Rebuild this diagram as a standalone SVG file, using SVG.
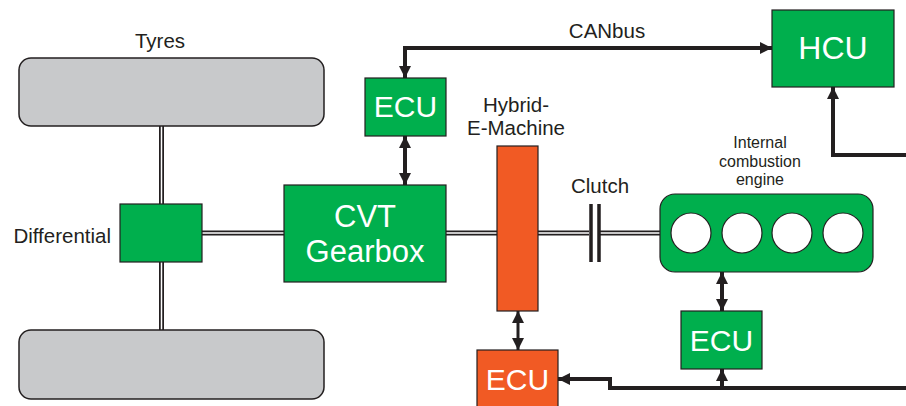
<svg xmlns="http://www.w3.org/2000/svg" width="906" height="406" viewBox="0 0 906 406">
<style>
text{font-family:"Liberation Sans",Arial,sans-serif;}
.lbl{fill:#231f20;text-anchor:middle;}
.wt{fill:#ffffff;text-anchor:middle;}
.green{fill:#00AF4D;stroke:#231f20;stroke-width:1.2;}
.orange{fill:#F15A24;stroke:#231f20;stroke-width:1.2;}
.tyre{fill:#C8C9CB;stroke:#231f20;stroke-width:1.5;}
.shaftO{stroke:#231f20;stroke-width:5;fill:none;}
.shaftI{stroke:#ffffff;stroke-width:1.5;fill:none;}
.sig{stroke:#231f20;stroke-width:4;fill:none;}
.sig2{stroke:#231f20;stroke-width:3;fill:none;}
</style>
<defs>
<marker id="ah" viewBox="0 0 10 10" refX="10" refY="5" markerWidth="12" markerHeight="12" markerUnits="userSpaceOnUse" orient="auto-start-reverse">
<path d="M0,0 L10,5 L0,10 z" fill="#231f20"/>
</marker>
</defs>
<rect width="906" height="406" fill="#ffffff"/>

<g id="shafts">
<path class="shaftO" d="M161.5,126 V204 M161.5,262 V330 M202,233 H284 M446,233 H589 M599,233 H660"/>
<path class="shaftI" d="M161.5,126 V204 M161.5,262 V330 M202,233 H284 M446,233 H589 M599,233 H660"/>
</g>

<g id="connectors">
<path class="sig" d="M405,78 V48 H772" marker-start="url(#ah)" marker-end="url(#ah)"/>
<path class="sig" d="M405,136 V185" marker-start="url(#ah)" marker-end="url(#ah)"/>
<path class="sig" d="M906,155 H833 V87" marker-end="url(#ah)"/>
<path class="sig2" d="M518,311 V350" marker-start="url(#ah)" marker-end="url(#ah)"/>
<path class="sig" d="M722,272 V311" marker-start="url(#ah)" marker-end="url(#ah)"/>
<path class="sig" d="M906,388 H610 V379 H558" marker-end="url(#ah)"/>
<path class="sig" d="M722,388 V369" marker-end="url(#ah)"/>
</g>

<g id="tyre-top">
<rect class="tyre" x="19" y="58" width="305" height="68" rx="12"/>
<text class="lbl" x="160" y="48" font-size="20.5">Tyres</text>
</g>
<g id="tyre-bottom">
<rect class="tyre" x="19" y="330" width="305" height="69" rx="12"/>
</g>

<g id="differential">
<rect class="green" x="120" y="204" width="82" height="58"/>
<text x="111" y="243" font-size="20.5" fill="#231f20" text-anchor="end">Differential</text>
</g>

<g id="cvt">
<rect class="green" x="284" y="185" width="162" height="97"/>
<text class="wt" x="365" y="227" font-size="31">CVT</text>
<text class="wt" x="365" y="262" font-size="31">Gearbox</text>
</g>

<g id="ecu-cvt">
<rect class="green" x="365" y="78" width="81" height="58"/>
<text class="wt" x="405.5" y="117" font-size="30">ECU</text>
</g>

<g id="canbus-label">
<text class="lbl" x="607" y="38" font-size="20.5">CANbus</text>
</g>

<g id="hcu">
<rect class="green" x="772" y="10" width="122" height="77"/>
<text class="wt" x="833" y="59" font-size="32">HCU</text>
</g>

<g id="e-machine">
<rect class="orange" x="497" y="146" width="41" height="165"/>
<text class="lbl" x="516" y="112" font-size="20.5">Hybrid-</text>
<text class="lbl" x="516" y="135" font-size="20.5">E-Machine</text>
</g>

<g id="clutch">
<path d="M591,204 V262 M599,204 V262" stroke="#231f20" stroke-width="3.5"/>
<text class="lbl" x="600" y="193" font-size="20.5">Clutch</text>
</g>

<g id="engine">
<rect class="green" x="660" y="194" width="213" height="78" rx="15"/>
<circle cx="691" cy="233" r="20" fill="#ffffff" stroke="#231f20" stroke-width="1.2"/>
<circle cx="742" cy="233" r="20" fill="#ffffff" stroke="#231f20" stroke-width="1.2"/>
<circle cx="792" cy="233" r="20" fill="#ffffff" stroke="#231f20" stroke-width="1.2"/>
<circle cx="843" cy="233" r="20" fill="#ffffff" stroke="#231f20" stroke-width="1.2"/>
<text class="lbl" x="760" y="148" font-size="16">Internal</text>
<text class="lbl" x="760" y="167" font-size="16">combustion</text>
<text class="lbl" x="760" y="185" font-size="16">engine</text>
</g>

<g id="ecu-engine">
<rect class="green" x="681" y="311" width="81" height="58"/>
<text class="wt" x="721.5" y="351" font-size="30">ECU</text>
</g>

<g id="ecu-emachine">
<rect class="orange" x="477" y="350" width="81" height="60"/>
<text class="wt" x="517.5" y="390" font-size="30">ECU</text>
</g>
</svg>
